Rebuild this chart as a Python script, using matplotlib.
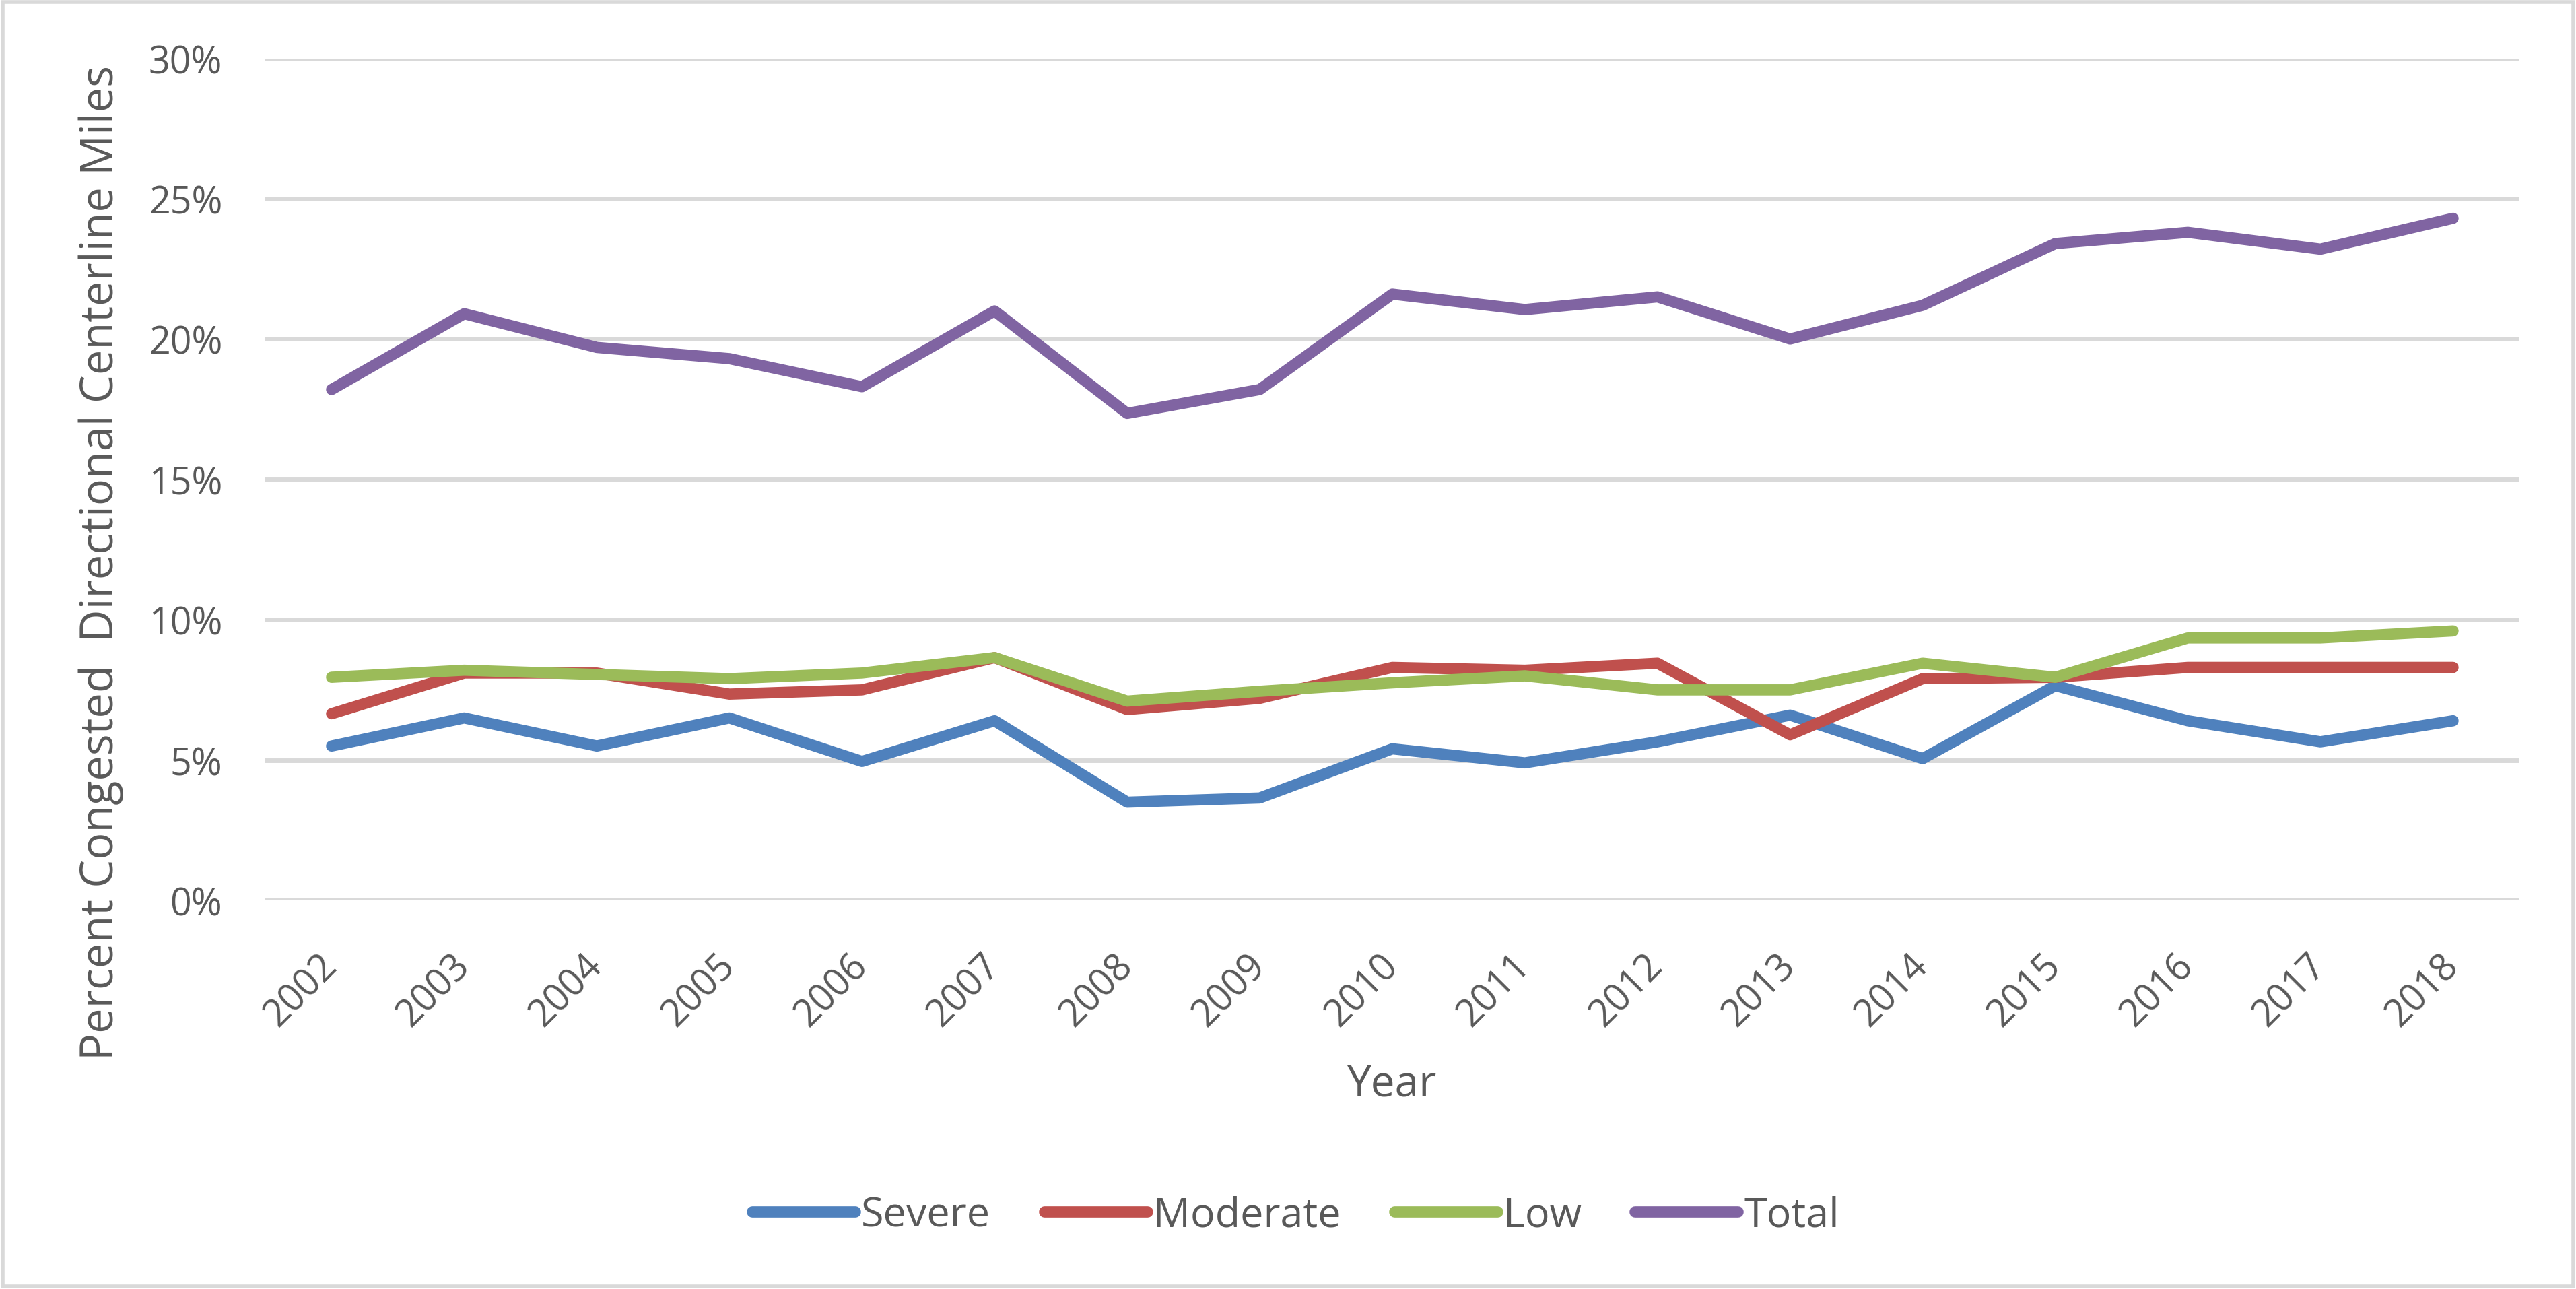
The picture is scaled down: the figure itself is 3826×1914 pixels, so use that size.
import matplotlib
matplotlib.use("Agg")
import matplotlib.pyplot as plt
from matplotlib.ticker import FuncFormatter, MultipleLocator
from matplotlib.patches import Rectangle

years = [str(y) for y in range(2002, 2019)]
severe = [5.5, 6.5, 5.5, 6.5, 4.95, 6.4, 3.5, 3.65, 5.4, 4.9, 5.65, 6.6, 5.05, 7.65, 6.4, 5.65, 6.4]
moderate = [6.65, 8.1, 8.1, 7.35, 7.5, 8.65, 6.8, 7.2, 8.3, 8.2, 8.45, 5.9, 7.9, 7.95, 8.3, 8.3, 8.3]
low = [7.95, 8.2, 8.05, 7.9, 8.1, 8.65, 7.1, 7.45, 7.75, 8.0, 7.5, 7.5, 8.45, 7.95, 9.35, 9.35, 9.6]
total = [18.2, 20.9, 19.7, 19.3, 18.3, 21.0, 17.35, 18.2, 21.6, 21.05, 21.5, 20.0, 21.2, 23.4, 23.8, 23.2, 24.3]

series_names = ["Severe", "Moderate", "Low", "Total"]
series_values = [severe, moderate, low, total]
colors = ["#4F81BD", "#C0504D", "#9BBB59", "#8064A2"]

plt.rcParams['font.family'] = ['Open Sans', 'DejaVu Sans']
text_color = "#595959"

fig = plt.figure(figsize=(38.26, 19.15), dpi=100)
ax = fig.add_axes([0.103, 0.3013, 0.875, 0.653])

x = list(range(len(years)))
for name, vals, c in zip(series_names, series_values, colors):
    ax.plot(x, vals, color=c, lw=12, label=name,
            solid_capstyle='round', solid_joinstyle='round')

ax.set_xlim(-0.5, len(years) - 0.5)
ax.set_ylim(0, 30)
ax.yaxis.set_major_locator(MultipleLocator(5))
ax.yaxis.set_major_formatter(FuncFormatter(lambda v, p: f"{v:.0f}%"))
ax.set_xticks(x)
ax.set_xticklabels(years, rotation=45, ha='right', va='center', rotation_mode='anchor')
ax.tick_params(axis='both', length=0, labelsize=40, colors=text_color)
ax.tick_params(axis='y', pad=46)
ax.tick_params(axis='x', pad=64)
ax.grid(axis='y', color="#D9D9D9", lw=5)
ax.set_axisbelow(True)
for s in ax.spines.values():
    s.set_visible(False)

ax.set_ylabel("Percent Congested  Directional Centerline Miles", fontsize=48,
              color=text_color, va='baseline')
ax.yaxis.set_label_coords(0.0439, 0.5635, transform=fig.transFigure)
ax.set_xlabel("Year", fontsize=46, color=text_color, va='baseline')
ax.xaxis.set_label_coords(0.5405, 0.1499, transform=fig.transFigure)

leg = fig.legend(loc='center', bbox_to_anchor=(0.503, 0.057), ncol=4, frameon=False,
                 fontsize=44, handlelength=2.5, columnspacing=1.3, handletextpad=0.15)
for t in leg.get_texts():
    t.set_color(text_color)

fig.patches.append(Rectangle((0.001, 0.002), 0.998, 0.996, transform=fig.transFigure,
                             fill=False, edgecolor="#D9D9D9", lw=4))

fig.savefig("out.png", dpi=100, facecolor='white')
